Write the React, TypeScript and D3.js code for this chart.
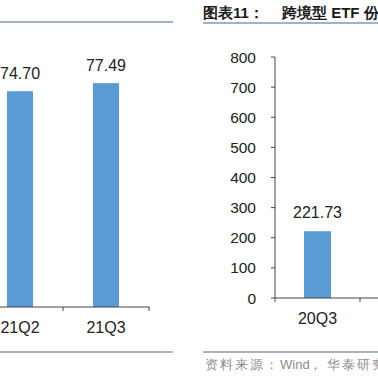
import React from "react";
import * as d3 from "d3";

const leftCategories = ["21Q2", "21Q3"];
const leftValues = [74.7, 77.49];
const rightCategories = ["20Q3"];
const rightValues = [221.73];
const rightTicks = [0, 100, 200, 300, 400, 500, 600, 700, 800];
const titlePrefix = "图表11：";
const titleText = "跨境型 ETF 份额变化";
const sourceParts = ["资料来源：", "Wind", "，", "华泰研究"];

const BAR = "#5B9BD5";
const FONT = "Liberation Sans, Arial, sans-serif";

export default function App() {
  // Left chart
  const lx = d3.scaleBand<string>().domain(leftCategories).range([-23, 149]);
  const ly = d3.scaleLinear().domain([0, 90]).range([307, 47]);
  const lBarW = 26;
  // Right chart
  const rx = d3.scaleBand<string>().domain(rightCategories).range([275, 360]);
  const ry = d3.scaleLinear().domain([0, 800]).range([298, 57]);
  const rBarW = 27;

  const lBoundaries = [...leftCategories.map((c) => lx(c)!), lx.range()[1]];
  const rBoundaries = [...rightCategories.map((c) => rx(c)!), rx.range()[1]];

  return (
    <svg
      width={378}
      height={378}
      style={{ position: "fixed", left: 0, top: 0, background: "#fff" }}
      fontFamily={FONT}
    >
      {/* Left chart */}
      <line x1={0} x2={173} y1={22} y2={22} stroke="#7f98b8" strokeWidth={1.5} />
      {leftCategories.map((c, i) => {
        const cx = lx(c)! + lx.bandwidth() / 2;
        return (
          <g key={c}>
            <rect
              x={cx - lBarW / 2}
              y={ly(leftValues[i])}
              width={lBarW}
              height={ly(0) - ly(leftValues[i])}
              fill={BAR}
            />
            <text x={cx} y={ly(leftValues[i]) - 12} textAnchor="middle" fontSize={16} fill="#222">
              {leftValues[i].toFixed(2)}
            </text>
            <text x={cx} y={333} textAnchor="middle" fontSize={16} fill="#222">
              {c}
            </text>
          </g>
        );
      })}
      <line x1={0} x2={149.5} y1={307} y2={307} stroke="#444" strokeWidth={1} />
      {lBoundaries.map((b, i) => (
        <line key={i} x1={b} x2={b} y1={307} y2={311} stroke="#444" strokeWidth={1} />
      ))}
      <line x1={0} x2={173} y1={352} y2={352} stroke="#8a9bb0" strokeWidth={1.5} />

      {/* Right chart */}
      <text x={203} y={18} fontSize={15} fontWeight="bold" fill="#1a1a1a">
        {titlePrefix}
      </text>
      <text x={282} y={18} fontSize={15} fontWeight="bold" fill="#1a1a1a">
        {titleText}
      </text>
      <line x1={203} x2={378} y1={23} y2={23} stroke="#7f98b8" strokeWidth={1.5} />
      <line x1={275} x2={275} y1={ry(800)} y2={ry(0)} stroke="#444" strokeWidth={1} />
      {rightTicks.map((t) => (
        <g key={t}>
          <line x1={271} x2={275} y1={ry(t)} y2={ry(t)} stroke="#444" strokeWidth={1} />
          <text x={256} y={ry(t) + 5.5} textAnchor="end" fontSize={15.5} fill="#222">
            {t}
          </text>
        </g>
      ))}
      {rightCategories.map((c, i) => {
        const cx = rx(c)! + rx.bandwidth() / 2;
        return (
          <g key={c}>
            <rect
              x={cx - rBarW / 2}
              y={ry(rightValues[i])}
              width={rBarW}
              height={ry(0) - ry(rightValues[i])}
              fill={BAR}
            />
            <text x={cx} y={ry(rightValues[i]) - 13} textAnchor="middle" fontSize={16} fill="#222">
              {rightValues[i].toFixed(2)}
            </text>
            <text x={cx} y={324} textAnchor="middle" fontSize={16} fill="#222">
              {c}
            </text>
          </g>
        );
      })}
      <line x1={275} x2={378} y1={298} y2={298} stroke="#444" strokeWidth={1} />
      {rBoundaries.map((b, i) => (
        <line key={i} x1={b} x2={b} y1={298} y2={302} stroke="#444" strokeWidth={1} />
      ))}
      <line x1={203} x2={378} y1={352} y2={352} stroke="#8a9bb0" strokeWidth={1.5} />
      <g fontSize={13} fill="#8c8c8c">
        <text x={205} y={369} letterSpacing={2}>{sourceParts[0]}</text>
        <text x={280} y={369}>{sourceParts[1]}</text>
        <text x={309} y={369}>{sourceParts[2]}</text>
        <text x={327} y={369} letterSpacing={2}>{sourceParts[3]}</text>
      </g>
    </svg>
  );
}
